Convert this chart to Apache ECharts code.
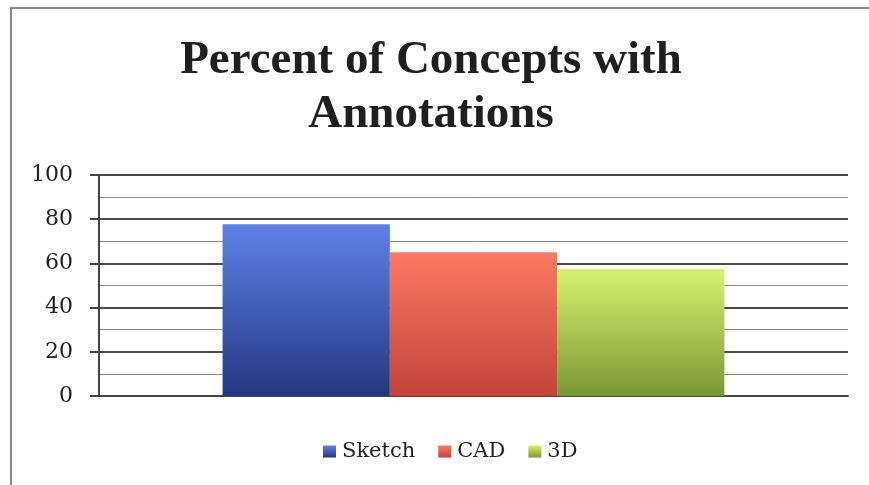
<!DOCTYPE html>
<html>
<head>
<meta charset="utf-8">
<script src="https://cdn.jsdelivr.net/npm/echarts@6/dist/echarts.min.js"></script>
<style>
html,body{margin:0;padding:0;background:#fff;}
#chart{width:869px;height:485px;}
</style>
</head>
<body>
<div id="chart"></div>
<script>
const titleText = 'Percent of Concepts with\nAnnotations';
const categories = [''];
const seriesNames = ['Sketch', 'CAD', '3D'];
const sketchValues = [77.7];
const cadValues = [65];
const threeDValues = [57.5];
const yTicks = { min: 0, max: 100, interval: 20 };

const grads = [
  ['#5f81e8', '#223880'],
  ['#fa7a63', '#c2443a'],
  ['#d8f26e', '#7b9735']
];
function grad(c) {
  return new echarts.graphic.LinearGradient(0, 0, 0, 1, [
    { offset: 0, color: c[0] },
    { offset: 1, color: c[1] }
  ]);
}
const values = [sketchValues, cadValues, threeDValues];

const chart = echarts.init(document.getElementById('chart'), null, { renderer: 'canvas' });
chart.setOption({
  animation: false,
  backgroundColor: '#fff',
  graphic: [{
    type: 'rect',
    shape: { x: 11, y: 8, width: 900, height: 500 },
    style: { fill: 'none', stroke: '#858a91', lineWidth: 2 },
    z: 0
  }],
  title: {
    text: titleText,
    left: 426,
    top: 29,
    textAlign: 'center',
    textStyle: {
      fontFamily: 'Liberation Serif',
      fontWeight: 'bold',
      fontSize: 47,
      lineHeight: 54,
      color: '#1f1f1f'
    }
  },
  legend: {
    data: seriesNames,
    left: 318,
    top: 436,
    itemWidth: 13,
    itemHeight: 12,
    itemGap: 23,
    icon: 'rect',
    textStyle: { fontFamily: 'DejaVu Serif', fontSize: 21, color: '#222', padding: [0, 0, 0, 1] }
  },
  grid: { left: 99, right: 21, top: 175, bottom: 89, containLabel: false },
  xAxis: {
    type: 'category',
    data: categories,
    axisLine: { show: true, lineStyle: { color: '#444', width: 2 } },
    axisTick: { show: false },
    axisLabel: { show: false }
  },
  yAxis: {
    type: 'value',
    min: yTicks.min,
    max: yTicks.max,
    interval: yTicks.interval,
    axisLine: { show: true, lineStyle: { color: '#444', width: 2 } },
    axisTick: { show: true, length: 9, lineStyle: { color: '#444', width: 2 } },
    axisLabel: { margin: 26, fontFamily: 'DejaVu Serif', fontSize: 22, color: '#1f1f1f' },
    splitLine: { show: true, lineStyle: { color: '#4a4a4a', width: 2 } },
    minorTick: { show: false, splitNumber: 2 },
    minorSplitLine: { show: true, lineStyle: { color: '#8a8a8a', width: 1 } }
  },
  series: seriesNames.map((n, i) => ({
    name: n,
    type: 'bar',
    data: values[i],
    barGap: '0%',
    barCategoryGap: '33%',
    itemStyle: { color: grad(grads[i]) }
  }))
});
</script>
</body>
</html>
